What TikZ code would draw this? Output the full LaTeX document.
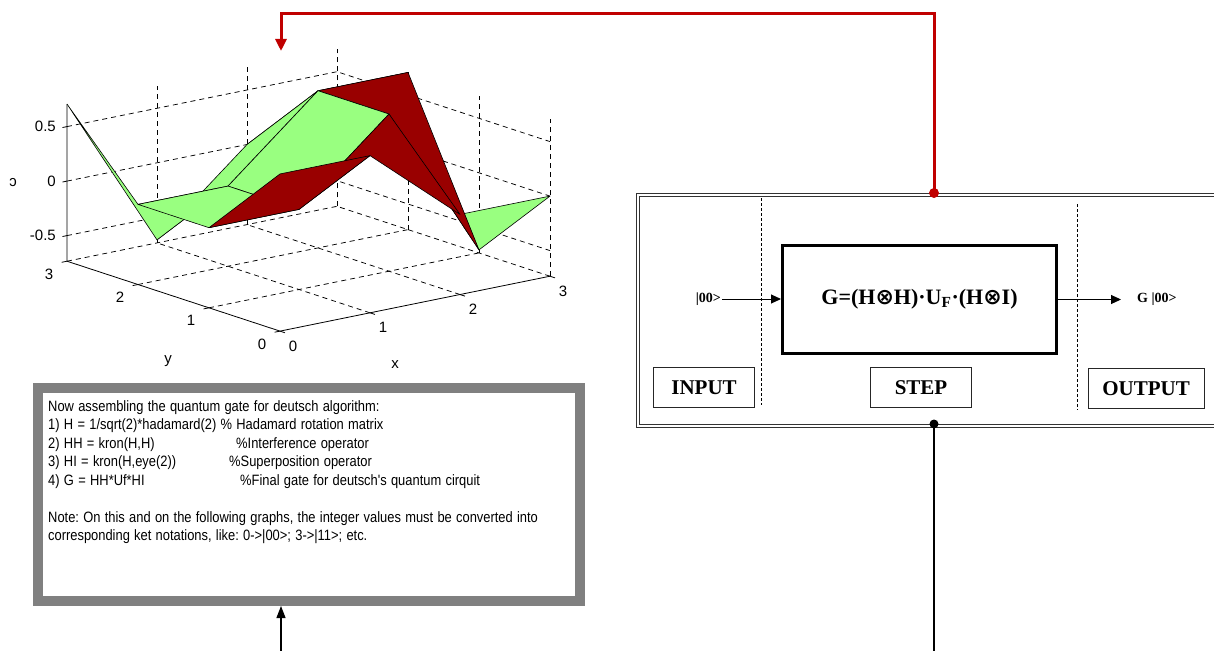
\documentclass[tikz,border=0pt]{standalone}
\usepackage{fontspec}
\setmainfont{Liberation Serif}
\newfontfamily\plotfont{Liberation Sans}
\newfontfamily\notefont[FakeStretch=0.86,WordSpace=1.2]{Liberation Sans}
\newfontfamily\opfont{DejaVu Sans}
\usetikzlibrary{arrows.meta,positioning}

\definecolor{meshgreen}{RGB}{153,255,128}
\definecolor{meshred}{RGB}{153,0,0}
\definecolor{loopred}{RGB}{192,0,0}
\definecolor{panelgray}{RGB}{128,128,128}

\def\zlo{-0.735}
\def\zhi{0.707}

\begin{document}
\begin{tikzpicture}[x=1pt,y=-1pt,
    gridline/.style={black,line width=0.75pt,dash pattern=on 5pt off 4pt},
    axisline/.style={black,line width=0.8pt},
    meshface/.style={draw=black,line width=0.6pt,line join=round},
    ticklabel/.style={font=\plotfont\fontsize{15}{15}\selectfont,inner sep=0pt},
    tagbox/.style={draw=black!85,line width=1pt,minimum height=40pt,font=\bfseries\fontsize{21}{21}\selectfont},
    divider/.style={line width=0.8pt,dash pattern=on 3pt off 2pt},
    ket/.style={font=\bfseries\fontsize{14}{14}\selectfont,inner sep=1pt},
    flow/.style={line width=1pt,-{Triangle[width=9pt,length=10pt]}},
    joint/.style={circle,inner sep=0pt,minimum size=10pt}]

    \useasboundingbox (0,0) rectangle (1214,650);
    \clip (0,0) rectangle (1214,650);

    % Draw the surface plot of G
    \begin{scope}[shift={(280,251)},x={(90pt,18.3pt)},y={(-71pt,23.3pt)},z={(0pt,109pt)}]
        % grid on the floor and on the back walls
        \foreach \k in {1,2,3} {
            \draw[gridline] (\k,0,\zlo) -- (\k,3,\zlo);
            \draw[gridline] (0,\k,\zlo) -- (3,\k,\zlo);
            \draw[gridline] (\k,3,\zlo) -- (\k,3,\zhi);
        }
        \foreach \k in {0,1,2}
            \draw[gridline] (3,\k,\zlo) -- (3,\k,\zhi);
        \foreach \h in {-0.5,0,0.5}
            \draw[gridline] (0,3,\h) -- (3,3,\h) -- (3,0,\h);

        % axes and ticks
        \draw[axisline] (0,3,\zhi) -- (0,3,\zlo) -- (0,0,\zlo) -- (3,0,\zlo);
        \foreach \k in {0,...,3} {
            \draw[axisline] (\k,0,\zlo) -- ++(0,-0.07,0);
            \draw[axisline] (0,\k,\zlo) -- ++(-0.06,0,0);
            \node[ticklabel,xshift=13pt,yshift=-15pt] (xlab\k) at (\k,0,\zlo) {\k};
            \node[ticklabel,xshift=-18pt,yshift=-13pt] (ylab\k) at (0,\k,\zlo) {\k};
        }
        \foreach \h/\n in {-0.5/1,0/2,0.5/3} {
            \draw[axisline] (0,3,\h) -- ++(-0.05,0,0);
            \node[ticklabel,anchor=east,xshift=-11pt] (zlab\n) at (0,3,\h) {\h};
        }

        % mesh points (column, row, value)
        \foreach \i/\j/\v in {0/0/0.707, 1/0/0.707, 2/0/0, 3/0/0,
                              0/1/0, 1/1/0, 2/1/0.707, 3/1/-0.707,
                              0/2/0, 1/2/0, 2/2/0.707, 3/2/0.707,
                              0/3/0.707, 1/3/-0.707, 2/3/0, 3/3/0}
            \coordinate (m\i\j) at (\i,\j,\v);

        % faces, back to front
        \foreach \i/\j/\c in {2/2/meshred, 1/2/meshgreen, 2/0/meshgreen,
                              2/1/meshred, 0/2/meshgreen, 1/1/meshgreen,
                              0/1/meshgreen, 1/0/meshred, 0/0/meshred} {
            \pgfmathtruncatemacro\inext{\i+1}
            \pgfmathtruncatemacro\jnext{\j+1}
            \filldraw[meshface,fill=\c] (m\i\j) -- (m\inext\j) -- (m\inext\jnext) -- (m\i\jnext) -- cycle;
        }
    \end{scope}

    % Axis titles
    \node[ticklabel] (xtitle) at (395,365) {x};
    \node[ticklabel] (ytitle) at (168,361) {y};
    \node[ticklabel] (ztitle) at (13,183) {\reflectbox{c}};

    % Draw the note panel
    \node[draw=panelgray,line width=10pt,minimum width=542pt,minimum height=213pt] (notebox) at (309,494.5) {};
    \node[anchor=north west,inner sep=0pt,align=left,font=\notefont\fontsize{15}{18.5}\selectfont\frenchspacing] (notetext) at (48,400) {%
        Now assembling the quantum gate for deutsch algorithm:\\
        1) H = 1/sqrt(2)*hadamard(2) \% Hadamard rotation matrix\\
        \makebox[188pt][l]{2) HH = kron(H,H)}\%Interference operator\\
        \makebox[181pt][l]{3) HI = kron(H,eye(2))}\%Superposition operator\\
        \makebox[192pt][l]{4) G = HH*Uf*HI}\%Final gate for deutsch's quantum cirquit\\[18.5pt]
        Note: On this and on the following graphs, the integer values must be converted into\\
        corresponding ket notations, like: 0->|00>; 3->|11>; etc.};

    % Draw the step block
    \node[draw=black!80,double,double distance=2pt,line width=1pt,minimum width=584pt,minimum height=231pt] (stepframe) at (930,310.5) {};
    \draw[divider] (761,198) -- (761,405);
    \draw[divider] (1077,204) -- (1077,410);
    \node[draw,line width=3pt,minimum width=274pt,minimum height=108pt,font=\bfseries\fontsize{22}{22}\selectfont] (gate) at (919.5,299.5)
        {G=(H{\opfont ⊗}H)·U\textsubscript{F}·(H{\opfont ⊗}I)};
    \node[ket,anchor=east] (inket) at (722,299) {|00>};
    \node[ket,anchor=west] (outket) at (1136,299) {G |00>};
    \draw[flow] (inket.east) -- (inket.east -| gate.west);
    \draw[flow,shorten >=15pt] (gate.east) -- (gate.east -| outket.west);
    \node[tagbox,minimum width=101pt] (inbox) at (704,387.5) {INPUT};
    \node[tagbox,minimum width=101pt] (stepbox) at (921,387.5) {STEP};
    \node[tagbox,minimum width=116pt] (outbox) at (1146,388.5) {OUTPUT};

    % Feedback and feed lines
    \node[joint,fill=loopred] (topjoint) at (934,193) {};
    \node[joint,fill=black,minimum size=9pt] (botjoint) at (934,424) {};
    \coordinate (loopcorner) at (281,14);
    \coordinate (plotentry) at (281,51);
    \draw[loopred,line width=3pt,-{Triangle[width=11pt,length=12pt]}] (topjoint.center) |- (loopcorner) -- (plotentry);
    \coordinate (busend) at (934,652);
    \draw[line width=2pt] (botjoint.center) -- (busend);
    \coordinate (notefeed) at (281,652);
    \draw[line width=1.2pt,-{Triangle[width=9pt,length=12pt]}] (notefeed) -- (notefeed |- notebox.south);

\end{tikzpicture}
\end{document}
